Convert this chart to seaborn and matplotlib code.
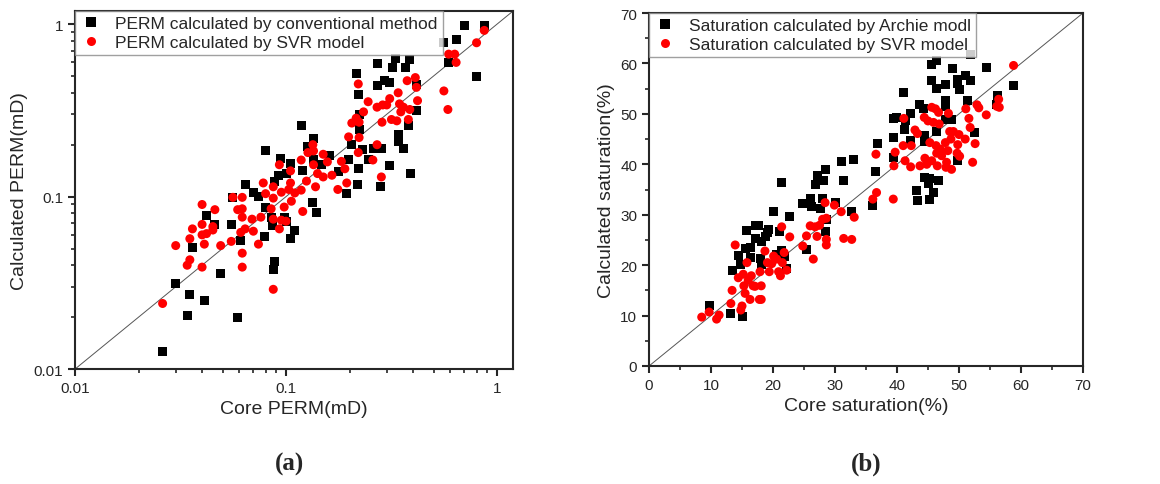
import numpy as np
import pandas as pd
import seaborn as sns
import matplotlib.pyplot as plt
from matplotlib.ticker import FixedLocator, LogLocator, MultipleLocator, NullFormatter

sns.set_style("ticks")
plt.rcParams['font.family'] = ['Liberation Sans', 'DejaVu Sans']

# (a) permeability, conventional method
perm_conv_core = [0.026, 0.030, 0.034, 0.035, 0.036, 0.041, 0.042, 0.046, 0.049, 0.055,
                  0.056, 0.059, 0.061, 0.064, 0.070, 0.074, 0.079, 0.080, 0.080, 0.085,
                  0.086, 0.087, 0.088, 0.088, 0.092, 0.094, 0.098, 0.100, 0.100, 0.105,
                  0.105, 0.110, 0.118, 0.120, 0.127, 0.133, 0.135, 0.140, 0.135, 0.147,
                  0.160, 0.177, 0.193, 0.198, 0.205, 0.216, 0.220, 0.220, 0.217, 0.222,
                  0.224, 0.230, 0.245, 0.260, 0.270, 0.272, 0.280, 0.285, 0.293, 0.310,
                  0.310, 0.320, 0.330, 0.340, 0.340, 0.360, 0.370, 0.385, 0.380, 0.390,
                  0.415, 0.415, 0.560, 0.590, 0.640, 0.700, 0.800, 0.870]
perm_conv_calc = [0.0126, 0.0315, 0.0205, 0.027, 0.051, 0.025, 0.078, 0.069, 0.036, 0.069,
                  0.099, 0.020, 0.056, 0.117, 0.105, 0.100, 0.059, 0.186, 0.087, 0.076,
                  0.068, 0.038, 0.042, 0.123, 0.133, 0.167, 0.076, 0.072, 0.136, 0.156,
                  0.057, 0.064, 0.26, 0.142, 0.196, 0.093, 0.216, 0.081, 0.165, 0.154,
                  0.173, 0.140, 0.104, 0.164, 0.200, 0.52, 0.39, 0.146, 0.118, 0.30,
                  0.245, 0.187, 0.164, 0.19, 0.44, 0.59, 0.114, 0.19, 0.47, 0.46,
                  0.152, 0.56, 0.63, 0.23, 0.21, 0.19, 0.56, 0.62, 0.26, 0.137,
                  0.315, 0.445, 0.78, 0.60, 0.82, 0.98, 0.50, 0.98]

# (a) permeability, SVR model
perm_svr_core = [0.026, 0.030, 0.034, 0.035, 0.035, 0.036, 0.040, 0.040, 0.040, 0.040,
                 0.041, 0.042, 0.045, 0.045, 0.046, 0.049, 0.055, 0.056, 0.059, 0.062,
                 0.062, 0.062, 0.062, 0.062, 0.061, 0.064, 0.069, 0.070, 0.074, 0.076,
                 0.078, 0.080, 0.085, 0.087, 0.087, 0.087, 0.087, 0.093, 0.093, 0.095,
                 0.095, 0.098, 0.100, 0.103, 0.105, 0.105, 0.106, 0.110, 0.118, 0.118,
                 0.120, 0.125, 0.127, 0.134, 0.135, 0.135, 0.138, 0.141, 0.150, 0.150,
                 0.157, 0.165, 0.176, 0.183, 0.190, 0.194, 0.198, 0.205, 0.215, 0.220,
                 0.222, 0.222, 0.220, 0.233, 0.245, 0.258, 0.270, 0.270, 0.283, 0.285,
                 0.287, 0.300, 0.310, 0.316, 0.335, 0.340, 0.345, 0.350, 0.360, 0.375,
                 0.380, 0.386, 0.410, 0.415, 0.420, 0.560, 0.585, 0.590, 0.640, 0.630,
                 0.800, 0.870]
perm_svr_calc = [0.024, 0.052, 0.040, 0.043, 0.057, 0.065, 0.090, 0.069, 0.060, 0.039,
                 0.053, 0.061, 0.067, 0.064, 0.084, 0.052, 0.055, 0.099, 0.084, 0.099,
                 0.085, 0.076, 0.047, 0.039, 0.062, 0.065, 0.074, 0.063, 0.053, 0.076,
                 0.120, 0.104, 0.085, 0.029, 0.114, 0.098, 0.074, 0.153, 0.065, 0.073,
                 0.106, 0.087, 0.072, 0.110, 0.120, 0.141, 0.094, 0.105, 0.163, 0.109,
                 0.082, 0.123, 0.180, 0.200, 0.184, 0.153, 0.114, 0.136, 0.176, 0.130,
                 0.159, 0.133, 0.110, 0.160, 0.145, 0.120, 0.222, 0.267, 0.285, 0.450,
                 0.270, 0.220, 0.180, 0.310, 0.355, 0.163, 0.330, 0.200, 0.130, 0.270,
                 0.340, 0.340, 0.370, 0.280, 0.275, 0.400, 0.345, 0.310, 0.330, 0.470,
                 0.280, 0.320, 0.490, 0.430, 0.360, 0.410, 0.320, 0.670, 0.600, 0.670,
                 0.780, 0.920]

# (b) saturation, Archie model
sat_arch_core = [9.8, 13.2, 13.4, 15.1, 14.5, 14.8, 15.5, 15.8, 16.4, 16.4,
                 17.1, 17.6, 17.2, 18.0, 18.1, 18.8, 19.1, 19.3, 18.1, 20.0,
                 20.5, 21.0, 21.3, 21.4, 21.8, 22.2, 22.7, 24.8, 25.4, 26.0,
                 26.2, 26.8, 27.2, 27.6, 28.0, 28.1, 28.4, 28.5, 28.6, 30.0,
                 31.0, 31.4, 32.7, 33.0, 36.1, 36.6, 36.8, 39.4, 39.5, 39.4,
                 40.0, 41.1, 41.2, 41.3, 42.2, 42.2, 43.1, 43.3, 43.7, 44.3,
                 44.5, 44.5, 44.5, 45.1, 45.2, 45.2, 45.6, 45.6, 45.9, 46.3,
                 46.3, 46.4, 46.7, 47.8, 47.9, 47.9, 47.9, 49.0, 48.8, 49.7,
                 49.8, 50.1, 49.7, 51.0, 51.3, 51.8, 51.8, 52.5, 54.4, 56.2,
                 56.0, 58.8]
sat_arch_calc = [11.9, 10.5, 18.9, 9.9, 22.0, 20.2, 23.3, 26.9, 23.5, 21.5,
                 27.9, 27.9, 25.3, 21.4, 24.6, 25.6, 26.5, 27.1, 20.2, 30.6,
                 22.2, 26.7, 23.0, 36.4, 21.8, 19.3, 29.6, 32.2, 23.2, 33.2,
                 31.6, 35.9, 37.7, 31.3, 33.3, 36.7, 26.7, 38.9, 29.1, 32.4,
                 40.5, 36.7, 30.6, 40.9, 31.9, 38.5, 44.1, 41.4, 45.3, 49.1,
                 49.2, 54.3, 46.9, 48.6, 50.0, 44.7, 34.9, 32.9, 51.8, 51.0,
                 45.8, 37.4, 44.5, 36.1, 37.1, 33.1, 59.8, 56.6, 34.5, 60.6,
                 55.1, 46.5, 36.7, 55.9, 52.7, 51.5, 48.8, 58.9, 48.8, 56.9,
                 56.1, 54.9, 40.7, 57.7, 52.6, 61.7, 56.7, 46.3, 59.1, 53.6,
                 51.8, 55.7]

# (b) saturation, SVR model
sat_svr_core = [8.5, 9.7, 10.9, 11.3, 13.2, 13.4, 13.9, 14.4, 14.8, 15.0,
                15.2, 15.3, 15.5, 15.8, 16.0, 16.3, 16.5, 16.8, 17.1, 17.8,
                17.9, 18.1, 18.1, 18.7, 19.1, 19.4, 19.8, 20.1, 20.6, 20.9,
                21.2, 21.4, 21.5, 21.8, 22.2, 22.7, 24.8, 25.4, 26.0, 26.5,
                26.8, 27.1, 27.5, 28.0, 28.4, 28.6, 28.6, 28.6, 29.9, 31.0,
                31.4, 32.7, 33.1, 36.1, 36.6, 36.7, 39.4, 39.5, 39.7, 41.0,
                41.1, 41.3, 42.2, 42.3, 42.9, 43.3, 43.7, 44.4, 44.5, 44.8,
                45.0, 45.3, 45.6, 45.6, 45.9, 46.2, 46.3, 46.4, 46.5, 46.7,
                46.8, 47.0, 47.2, 47.8, 47.9, 48.0, 48.2, 48.3, 48.5, 48.7,
                48.8, 49.1, 49.7, 49.8, 50.0, 50.1, 51.0, 51.1, 51.6, 51.8,
                52.2, 52.6, 52.9, 53.2, 54.4, 56.1, 56.4, 56.5, 58.8]
sat_svr_calc = [9.7, 10.7, 9.3, 10.1, 12.4, 15.0, 24.0, 17.5, 11.1, 11.9,
                18.2, 15.9, 14.4, 20.5, 17.0, 13.2, 17.9, 15.9, 15.8, 13.2,
                18.7, 15.9, 13.2, 22.8, 20.5, 18.7, 20.3, 21.8, 21.2, 18.7,
                17.9, 27.6, 20.5, 22.5, 19.0, 25.6, 23.8, 25.8, 27.8, 21.2,
                27.6, 25.7, 27.9, 29.1, 32.4, 24.0, 29.3, 25.1, 31.9, 30.6,
                25.3, 25.1, 29.5, 33.1, 42.0, 34.4, 33.1, 39.7, 42.4, 43.7,
                49.1, 40.7, 39.5, 43.7, 46.8, 46.1, 39.7, 49.3, 41.2, 40.0,
                48.6, 44.3, 51.3, 40.7, 48.3, 51.0, 43.7, 42.2, 39.7, 50.3,
                48.0, 43.0, 41.7, 44.3, 39.4, 40.4, 42.7, 50.1, 46.5, 45.0,
                39.0, 46.5, 42.2, 43.9, 45.9, 41.6, 45.0, 51.0, 49.1, 47.3,
                40.4, 44.1, 51.8, 51.2, 49.8, 51.5, 52.9, 51.3, 59.6]

perm_df = pd.concat([
    pd.DataFrame({"core": perm_conv_core, "calc": perm_conv_calc,
                  "method": "PERM calculated by conventional method"}),
    pd.DataFrame({"core": perm_svr_core, "calc": perm_svr_calc,
                  "method": "PERM calculated by SVR model"}),
])
sat_df = pd.concat([
    pd.DataFrame({"core": sat_arch_core, "calc": sat_arch_calc,
                  "method": "Saturation calculated by Archie modl"}),
    pd.DataFrame({"core": sat_svr_core, "calc": sat_svr_calc,
                  "method": "Saturation calculated by SVR model"}),
])

fig = plt.figure(figsize=(11.6, 4.85), dpi=100)
ax1 = fig.add_axes([0.0647, 0.237, 0.3775, 0.738])
ax2 = fig.add_axes([0.5595, 0.2433, 0.3741, 0.7278])

palette = ["black", "#ff0000"]
markers = ["s", "o"]

# --- (a) PERM ---
sns.scatterplot(data=perm_df, x="core", y="calc", hue="method", style="method",
                palette=palette, markers=markers, s=42, linewidth=0, ax=ax1)
lim1 = (0.01, 1.19)
ax1.plot(lim1, lim1, color="#555555", lw=0.7, zorder=0)
ax1.set_xscale("log")
ax1.set_yscale("log")
ax1.set_xlim(lim1)
ax1.set_ylim(lim1)
for axis in (ax1.xaxis, ax1.yaxis):
    axis.set_major_locator(FixedLocator([0.01, 0.1, 1]))
    axis.set_minor_locator(LogLocator(base=10, subs=np.arange(2, 10)))
    axis.set_minor_formatter(NullFormatter())
ax1.set_xticklabels(["0.01", "0.1", "1"])
ax1.set_yticklabels(["0.01", "0.1", "1"])
ax1.set_xlabel("Core PERM(mD)", fontsize=14)
ax1.set_ylabel("Calculated PERM(mD)", fontsize=14)

# --- (b) saturation ---
sns.scatterplot(data=sat_df, x="core", y="calc", hue="method", style="method",
                palette=palette, markers=markers, s=42, linewidth=0, ax=ax2)
ax2.plot([0, 70], [0, 70], color="#555555", lw=0.7, zorder=0)
ax2.set_xlim(0, 70)
ax2.set_ylim(0, 70)
ax2.xaxis.set_major_locator(MultipleLocator(10))
ax2.xaxis.set_minor_locator(MultipleLocator(5))
ax2.yaxis.set_major_locator(MultipleLocator(10))
ax2.yaxis.set_minor_locator(MultipleLocator(5))
ax2.set_xlabel("Core saturation(%)", fontsize=14)
ax2.set_ylabel("Calculated saturation(%)", fontsize=14)

for ax in (ax1, ax2):
    for sp in ax.spines.values():
        sp.set_linewidth(1.5)
        sp.set_visible(True)
    ax.tick_params(which="major", direction="out", length=5, width=1.5, labelsize=11)
    ax.tick_params(which="minor", direction="out", length=3, width=1.2)
    ax.tick_params(top=False, right=False, which="both")
    leg = ax.legend(loc="upper left", fontsize=12.5, frameon=True, fancybox=False,
                    edgecolor="#888888", borderaxespad=0, handlelength=1.2,
                    handletextpad=0.8, borderpad=0.3, labelspacing=0.2)
    leg.get_frame().set_linewidth(1.0)

fig.text(0.25, 0.03, "(a)", fontsize=18, fontweight="bold",
         family=["Liberation Serif", "DejaVu Serif"], ha="center")
fig.text(0.747, 0.03, "(b)", fontsize=18, fontweight="bold",
         family=["Liberation Serif", "DejaVu Serif"], ha="center")

fig.savefig("out.png", dpi=100)
